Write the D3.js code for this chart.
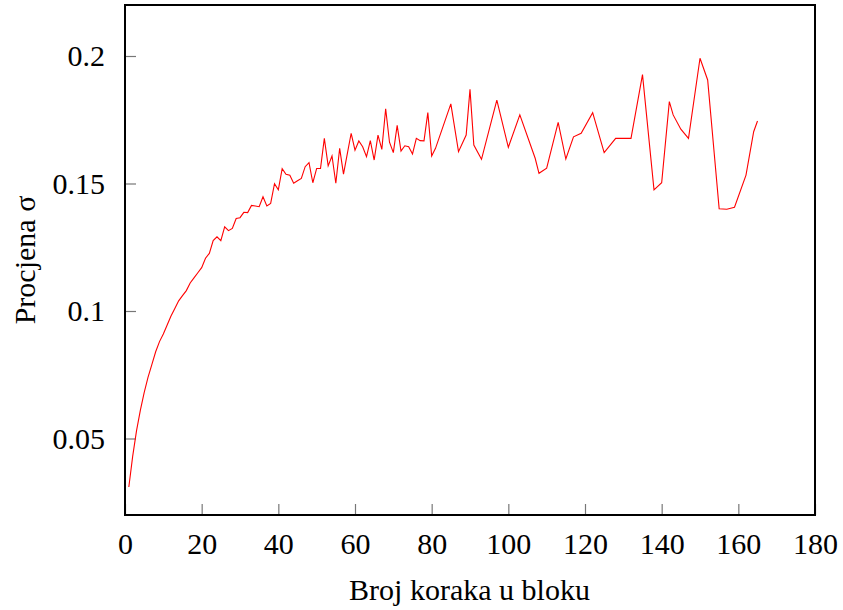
<!DOCTYPE html>
<html>
<head>
<meta charset="utf-8">
<script src="https://cdn.jsdelivr.net/npm/d3@7"></script>
<style>
  html, body { margin: 0; padding: 0; background: #fff; }
  text { font-family: "Liberation Serif", "Times New Roman", serif; }
</style>
</head>
<body>
<svg id="chart" width="843" height="610"></svg>
<script>
// Block sizes (x) and sigma estimates (y)
const steps = [1,2,3,4,5,6,7,8,9,10,11,12,13,14,15,16,17,18,19,20,
  21,22,23,24,25,26,27,28,29,30,31,32,33,34,35,36,37,38,39,40,
  41,42,43,44,45,46,47,48,49,50,51,52,53,54,55,56,57,58,59,60,
  61,62,63,64,65,66,67,68,69,70,71,72,73,74,75,76,77,78,79,80,
  81,83,85,87,89,90,91,93,97,100,103,107,108,110,113,115,117,119,122,125,
  128,132,135,138,140,142,143,145,147,150,152,155,157,159,162,164,165];
const sigma = [0.031,0.043,0.053,0.061,0.068,0.074,0.079,0.084,0.088,0.091,
  0.0945,0.098,0.101,0.104,0.106,0.108,0.111,0.113,0.115,0.117,
  0.1207,0.1226,0.1276,0.1291,0.1276,0.133,0.1315,0.1324,0.1363,0.1366,
  0.1387,0.1386,0.1414,0.1412,0.1409,0.1448,0.1412,0.1422,0.1499,0.1475,
  0.1558,0.1536,0.1532,0.1501,0.1511,0.152,0.1566,0.1582,0.1503,0.1559,
  0.1559,0.1677,0.1569,0.1608,0.1501,0.1638,0.1537,0.1617,0.1697,0.1631,
  0.1667,0.1644,0.1605,0.1668,0.1592,0.169,0.1634,0.1793,0.1662,0.1621,
  0.1728,0.1627,0.1648,0.1644,0.1616,0.1677,0.1668,0.1667,0.1778,0.1608,
  0.1638,0.1725,0.1812,0.1625,0.169,0.1869,0.1651,0.1595,0.1827,0.1642,
  0.1769,0.1599,0.154,0.156,0.174,0.1596,0.1683,0.1697,0.1778,0.1621,
  0.1677,0.1677,0.1927,0.1475,0.1503,0.1821,0.1769,0.1713,0.1677,0.1991,
  0.1906,0.1401,0.1399,0.1407,0.1533,0.1703,0.1745];
const xTicks = [0,20,40,60,80,100,120,140,160,180];
const yTicks = [0.05,0.1,0.15,0.2];
const yTickLabels = ["0.05","0.1","0.15","0.2"];
const xTitle = "Broj koraka u bloku";
const yTitle = "Procjena σ";

const svg = d3.select("#chart");
const L = 125, R = 815, T = 5, B = 515;
const x = d3.scaleLinear().domain([0, 180]).range([L, R]);
const y = d3.scaleLinear().domain([0.02, 0.22]).range([B, T]);

// ticks (inward, gray)
const xAxis = svg.append("g").attr("transform", `translate(0,${B})`)
  .call(d3.axisBottom(x).tickValues(xTicks).tickSize(-11).tickPadding(18).tickFormat(d3.format("d")));
const yAxis = svg.append("g").attr("transform", `translate(${L},0)`)
  .call(d3.axisLeft(y).tickValues(yTicks).tickSize(-11).tickPadding(20).tickFormat((d,i) => yTickLabels[i]));
[xAxis, yAxis].forEach(g => {
  g.select(".domain").remove();
  g.selectAll(".tick line").attr("stroke", "#777").attr("stroke-width", 1.2);
  g.selectAll(".tick text").attr("fill", "#000").style("font-size", "30px")
    .style("font-family", '"Liberation Serif", serif');
});
xAxis.selectAll(".tick text").attr("dy", "0.71em");

// line
const line = d3.line().x((d, i) => x(steps[i])).y(d => y(d));
svg.append("path").datum(sigma)
  .attr("d", line).attr("fill", "none").attr("stroke", "#ff0000").attr("stroke-width", 1.1);

// frame
svg.append("rect").attr("x", L).attr("y", T).attr("width", R - L).attr("height", B - T)
  .attr("fill", "none").attr("stroke", "#000").attr("stroke-width", 2);

// titles
svg.append("text").attr("x", (L + R) / 2 - 0.5).attr("y", 600)
  .attr("text-anchor", "middle").style("font-size", "30px").text(xTitle);
svg.append("text").attr("transform", `translate(35,${(T + B) / 2}) rotate(-90)`)
  .attr("text-anchor", "middle").style("font-size", "30px").text(yTitle);
</script>
</body>
</html>
